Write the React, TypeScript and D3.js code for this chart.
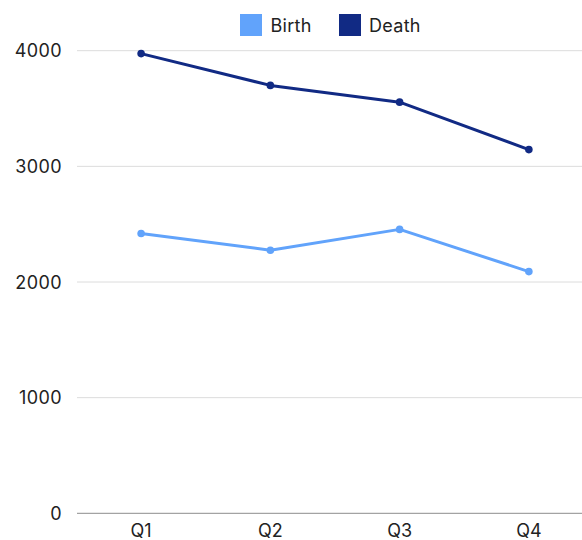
import React from 'react';
import * as d3 from 'd3';

const WIDTH = 582;
const HEIGHT = 540;
const MARGIN = { top: 50.7, right: 0, bottom: 26.7, left: 77 };
const FONT = 'Inter, "Open Sans", sans-serif';

const quarters = ['Q1', 'Q2', 'Q3', 'Q4'];
const birth = [2420, 2275, 2455, 2090];
const death = [3975, 3700, 3555, 3145];
const yTicks = [0, 1000, 2000, 3000, 4000];

const SERIES = [
  { name: 'Birth', values: birth, color: '#61a3fb' },
  { name: 'Death', values: death, color: '#112a84' },
];

const App = () => {
  const boundsHeight = HEIGHT - MARGIN.top - MARGIN.bottom;
  const gridRight = WIDTH;

  // the chart's category bands run a bit past the right edge of the picture
  const xScale = d3.scaleBand().domain(quarters).range([MARGIN.left - 0.5, 593.5]);
  const yScale = d3
    .scaleLinear()
    .domain([0, 4000])
    .range([MARGIN.top + boundsHeight, MARGIN.top]);

  const xCenter = (q: string) => (xScale(q) ?? 0) + xScale.bandwidth() / 2;

  const line = d3
    .line<number>()
    .x((_, i) => xCenter(quarters[i]))
    .y((d) => yScale(d));

  const legendItems = [
    { x: 240, textX: 270.5 },
    { x: 339, textX: 369 },
  ];

  return (
    <div style={{ position: 'absolute', left: 0, top: 0 }}>
      <svg width={WIDTH} height={HEIGHT} style={{ display: 'block', fontFamily: FONT }}>
        <rect width={WIDTH} height={HEIGHT} fill="#fff" />

        {yTicks.map((t) => (
          <g key={t}>
            <line
              x1={MARGIN.left}
              x2={gridRight}
              y1={yScale(t)}
              y2={yScale(t)}
              stroke={t === 0 ? '#8c8c8c' : '#dcdcdc'}
              strokeWidth={1}
            />
            <text
              x={62}
              y={yScale(t)}
              textAnchor="end"
              dominantBaseline="central"
              fontSize={18}
              letterSpacing={0.4}
              fill="#222"
            >
              {t}
            </text>
          </g>
        ))}

        {quarters.map((q) => (
          <text key={q} x={xCenter(q)} y={536.5} textAnchor="middle" fontSize={18} fill="#222">
            {q}
          </text>
        ))}

        {SERIES.map((s) => (
          <g key={s.name}>
            <path d={line(s.values) ?? ''} fill="none" stroke={s.color} strokeWidth={3} strokeLinejoin="round" />
            {s.values.map((v, i) => (
              <circle key={i} cx={xCenter(quarters[i])} cy={yScale(v)} r={3.8} fill={s.color} />
            ))}
          </g>
        ))}

        {SERIES.map((s, i) => (
          <g key={s.name}>
            <rect x={legendItems[i].x} y={14} width={22} height={22} fill={s.color} />
            <text x={legendItems[i].textX} y={31.5} fontSize={18} letterSpacing={0.3} fill="#222">
              {s.name}
            </text>
          </g>
        ))}
      </svg>
    </div>
  );
};

export default App;
